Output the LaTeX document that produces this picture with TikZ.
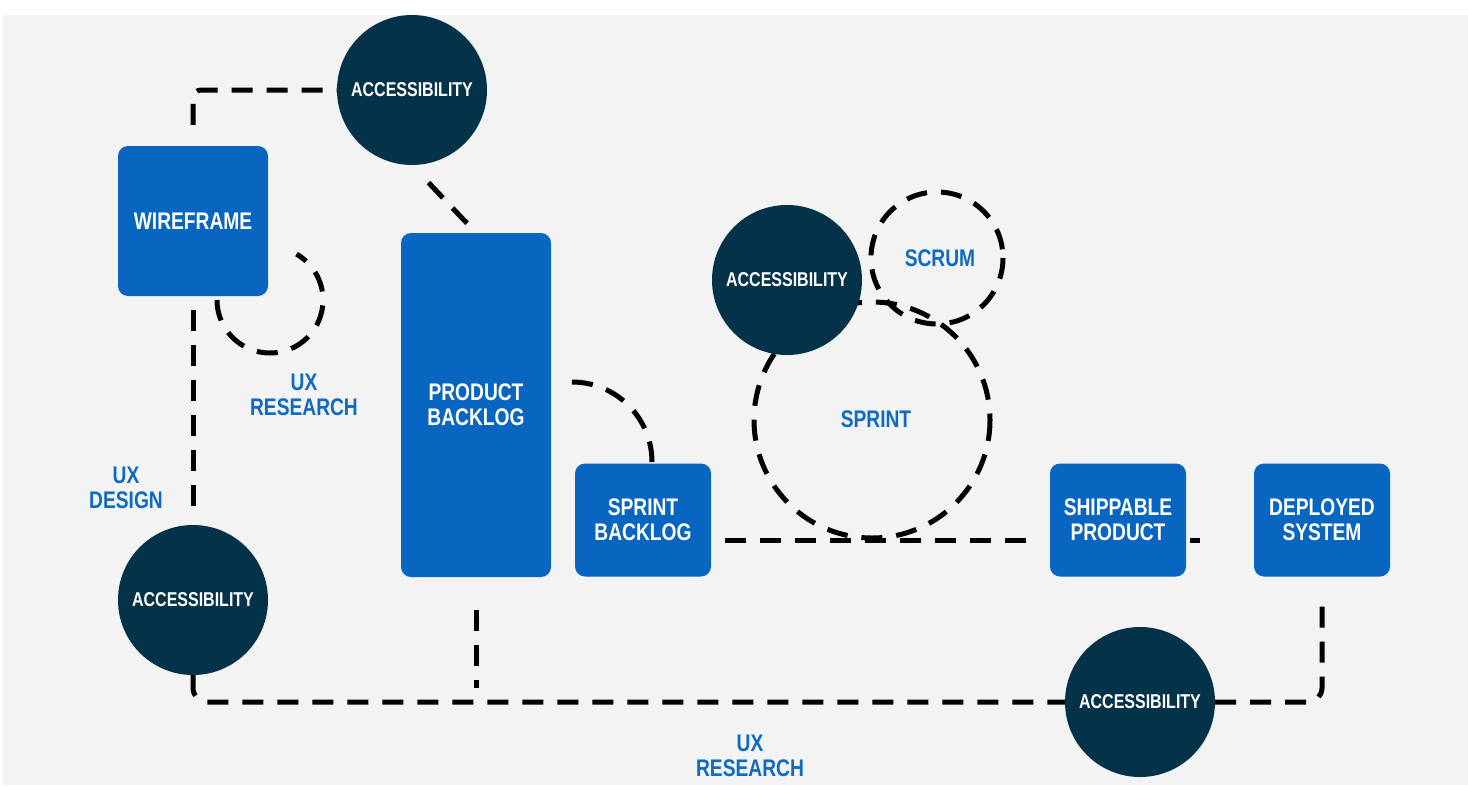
\documentclass[tikz,border=0pt]{standalone}
\usepackage{fontspec}
\setmainfont{Liberation Sans}[FakeStretch=0.8]
\definecolor{boxblue}{RGB}{8,102,192}
\definecolor{navy}{RGB}{4,50,73}
\definecolor{textblue}{RGB}{14,106,194}
\definecolor{paper}{RGB}{243,243,243}
\tikzset{
  box/.style={rectangle, rounded corners=10pt, fill=boxblue, text=white,
    font=\bfseries\fontsize{24}{25}\selectfont, align=center, inner sep=0pt},
  acc/.style={circle, fill=navy, text=white, minimum size=150pt, inner sep=0pt,
    font=\bfseries\fontsize{20}{22}\selectfont},
  link/.style={draw=black, line width=5pt, dash pattern=on 21pt off 14pt},
  tag/.style={text=textblue, font=\bfseries\fontsize{24}{25}\selectfont, align=center}
}
\begin{document}
\begin{tikzpicture}[x=1pt, y=-1pt]
  \useasboundingbox (0,0) rectangle (1468,787);
  \fill[paper] (3,15) rectangle (1468,785);

  % dashed loops
  \draw[link] (270,300) ++(180:53) arc[start angle=180, end angle=-60, radius=53];
  \draw[link] (937,258) circle (66);
  \draw[link] (872,420) circle (118);
  \draw[link] (572,382) arc[start angle=-90, end angle=0, radius=80];

  % boxes
  \node[box, minimum width=150pt, minimum height=150pt] (wireframe) at (193,221) {WIREFRAME};
  \node[box, minimum width=150pt, minimum height=344pt] (pbacklog) at (476,405) {PRODUCT\\BACKLOG};
  \node[box, minimum width=136pt, minimum height=113pt] (sbacklog) at (643,520) {SPRINT\\BACKLOG};
  \node[box, minimum width=136pt, minimum height=113pt] (shippable) at (1118,520) {SHIPPABLE\\PRODUCT};
  \node[box, minimum width=136pt, minimum height=113pt] (deployed) at (1322,520) {DEPLOYED\\SYSTEM};

  % accessibility circles
  \node[acc] (accTop) at (412,90) {ACCESSIBILITY};
  \node[acc] (accSprint) at (787,280) {ACCESSIBILITY};
  \node[acc] (accDesign) at (193,600) {ACCESSIBILITY};
  \node[acc] (accBottom) at (1140,702) {ACCESSIBILITY};

  \coordinate (pbEnd) at (476,688);
  \coordinate (shEnd) at (1200,540);

  % connectors
  \draw[link, rounded corners=8pt] ([yshift=21pt]wireframe.north) |- (accTop.west);
  \draw[link, shorten <=24pt, shorten >=12pt] (accTop.south) -- (pbacklog.north);
  \draw[link, shorten <=14pt, shorten >=6pt] (wireframe.south) -- (accDesign.north);
  \draw[link, rounded corners=14pt] (accDesign.south) |- (accBottom.west);
  \draw[link, rounded corners=14pt, shorten >=22pt] (accBottom.east) -| (deployed.south);
  \draw[link, shorten <=33pt] (pbacklog.south) -- (pbEnd);
  \draw[link, shorten <=14pt, shorten >=10pt] (sbacklog.east |- shEnd) -- (shippable.west |- shEnd);
  \draw[link, line cap=butt] (shippable.east |- shEnd) ++(4,0) -- (shEnd);

  % labels
  \node[tag] (uxres1) at (304,395) {UX\\RESEARCH};
  \node[tag] (uxdes) at (126,488) {UX\\DESIGN};
  \node[tag] (scrum) at (940,258) {SCRUM};
  \node[tag] (sprint) at (876,419) {SPRINT};
  \node[tag] (uxres2) at (750,756) {UX\\RESEARCH};
\end{tikzpicture}
\end{document}
